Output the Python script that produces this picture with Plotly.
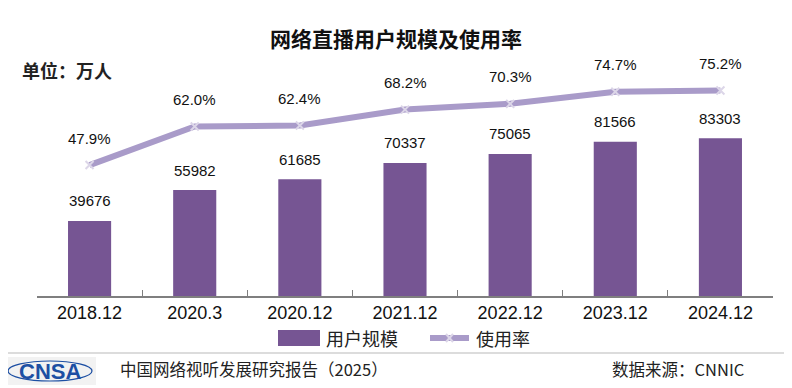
import plotly.graph_objects as go

categories = ["2018.12", "2020.3", "2020.12", "2021.12", "2022.12", "2023.12", "2024.12"]
users = [39676, 55982, 61685, 70337, 75065, 81566, 83303]
rates = [47.9, 62.0, 62.4, 68.2, 70.3, 74.7, 75.2]

FONT = "Liberation Sans, Arial, Noto Sans CJK SC, sans-serif"
CJK = "Noto Sans CJK SC, sans-serif"
BAR_COLOR = "#765593"
LINE_COLOR = "#a99bc9"
MARK_COLOR = "#dcd6e8"

# page body has an 8px margin; figure sized so it fits the 792x388 window
OFF = 8
W, H = 784, 380
ml, mr, mt, mb = 37 - OFF, 19, 50 - OFF, 92
pw, ph = W - ml - mr, H - mt - mb


def px(x):
    return (x - OFF - ml) / pw


def py(y):
    return (H - mb - (y - OFF)) / ph


fig = go.Figure()
fig.add_trace(go.Bar(
    x=categories, y=users, name="用户规模",
    marker=dict(color=BAR_COLOR, line=dict(width=0)),
    yaxis="y", showlegend=False,
))
fig.add_trace(go.Scatter(
    x=categories, y=rates, name="使用率", mode="lines+markers",
    line=dict(color=LINE_COLOR, width=6),
    marker=dict(symbol="x-thin", size=8, color=MARK_COLOR,
                line=dict(color=MARK_COLOR, width=2)),
    yaxis="y2", showlegend=False,
))

for i, v in enumerate(users):
    fig.add_annotation(x=i, y=v, xref="x", yref="y", text=str(v),
                       showarrow=False, yshift=20,
                       font=dict(family=FONT, size=15, color="#111"))
for i, r in enumerate(rates):
    fig.add_annotation(x=i, y=r, xref="x", yref="y2", text=f"{r:.1f}%",
                       showarrow=False, yshift=27,
                       font=dict(family=FONT, size=15, color="#111"))

extra = [
    dict(text="<b>网络直播用户规模及使用率</b>", x=px(396), y=py(38),
         font=dict(family=CJK, size=21, color="#111")),
    dict(text="<b>单位：万人</b>", x=px(20), y=py(70), xanchor="left",
         font=dict(family=CJK, size=18, color="#222")),
    dict(text="用户规模", x=px(324), y=py(338), xanchor="left",
         font=dict(family=CJK, size=18, color="#222")),
    dict(text="使用率", x=px(474), y=py(338), xanchor="left",
         font=dict(family=CJK, size=18, color="#222")),
    dict(text="中国网络视听发展研究报告（2025）", x=px(118), y=py(369), xanchor="left",
         font=dict(family=CJK, size=16.5, color="#222")),
    dict(text="数据来源：CNNIC", x=px(746), y=py(369), xanchor="right",
         font=dict(family=CJK, size=16.5, color="#222")),
    dict(text="<b>CNSA</b>", x=px(50), y=py(371),
         font=dict(family="Liberation Sans Narrow, Liberation Sans, Arial", size=22, color="#1d4fa3")),
]
for e in extra:
    e.update(xref="paper", yref="paper", showarrow=False, yanchor="middle")
    e.setdefault("xanchor", "center")
    fig.add_annotation(**e)

shapes = [
    # legend swatches
    dict(type="rect", xref="paper", yref="paper", x0=px(278), x1=px(320),
         y0=py(346), y1=py(330), fillcolor=BAR_COLOR, line=dict(width=0)),
    dict(type="line", xref="paper", yref="paper", x0=px(430), x1=px(469),
         y0=py(338), y1=py(338), line=dict(color=LINE_COLOR, width=6)),
    dict(type="line", xref="paper", yref="paper", x0=px(446), x1=px(453),
         y0=py(334), y1=py(342), line=dict(color=MARK_COLOR, width=2)),
    dict(type="line", xref="paper", yref="paper", x0=px(446), x1=px(453),
         y0=py(342), y1=py(334), line=dict(color=MARK_COLOR, width=2)),
    # footer
    dict(type="line", xref="paper", yref="paper", x0=px(5), x1=px(790),
         y0=py(353), y1=py(353), line=dict(color="#d0d0d0", width=1.5)),
    dict(type="rect", xref="paper", yref="paper", x0=px(5), x1=px(96),
         y0=py(385), y1=py(357), fillcolor="#f2f2f2", line=dict(width=0), layer="below"),
    dict(type="circle", xref="paper", yref="paper", x0=px(8), x1=px(92),
         y0=py(381), y1=py(361), line=dict(color="#1d4fa3", width=1.2), layer="below"),
]

fig.update_layout(
    width=W, height=H,
    margin=dict(l=ml, r=mr, t=mt, b=mb, autoexpand=False),
    paper_bgcolor="white", plot_bgcolor="white",
    bargap=0.59,
    showlegend=False,
    xaxis=dict(type="category", showline=True, linecolor="#7f7f7f", linewidth=1.5,
               ticks="inside", tickson="boundaries", ticklen=6, tickcolor="#7f7f7f",
               tickfont=dict(family=FONT, size=18, color="#111"),
               showgrid=False, zeroline=False, range=[-0.5, 6.5]),
    yaxis=dict(range=[0, 130000], visible=False, showgrid=False, zeroline=False),
    yaxis2=dict(range=[0, 90], overlaying="y", side="right", visible=False,
                showgrid=False, zeroline=False),
    shapes=shapes,
)

fig.write_html("out.html")
